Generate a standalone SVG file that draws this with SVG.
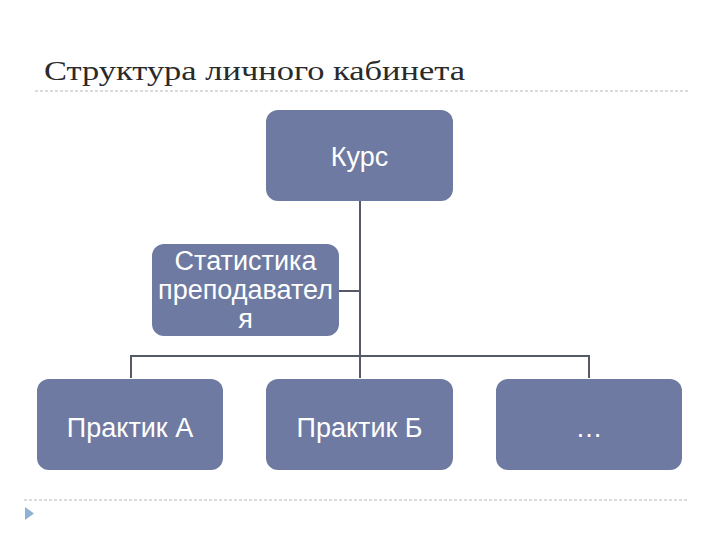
<svg xmlns="http://www.w3.org/2000/svg" width="720" height="540" viewBox="0 0 720 540">
<style>
.box{fill:#6E7AA1;}
.lbl{font-family:"Liberation Sans",Arial,sans-serif;font-size:27px;fill:#ffffff;text-anchor:middle;}
.conn{stroke:#555a66;stroke-width:2;fill:none;}
.sep{stroke:#b8b8b8;stroke-width:1;stroke-dasharray:3 2;}
</style>
<rect width="720" height="540" fill="#ffffff"/>
<text x="44" y="80" font-family="'Liberation Serif','DejaVu Serif',serif" font-size="28" fill="#2a2a2a" textLength="421" lengthAdjust="spacingAndGlyphs">Структура личного кабинета</text>
<line class="sep" x1="35" y1="91" x2="688" y2="91"/>
<g id="connectors">
<path class="conn" d="M360 201 V378"/>
<path class="conn" d="M339 291 H360"/>
<path class="conn" d="M131 378 V356 H589 V378"/>
</g>
<g id="kurs"><rect class="box" x="266" y="110" width="187" height="91" rx="12"/><text class="lbl" x="359.5" y="166">Курс</text></g>
<g id="stat"><rect class="box" x="152" y="244" width="187" height="92" rx="12"/><text class="lbl" x="245.5" y="270">Статистика</text><text class="lbl" x="245.5" y="299">преподавател</text><text class="lbl" x="245.5" y="328">я</text></g>
<g id="praktikA"><rect class="box" x="37" y="379" width="186" height="91" rx="12"/><text class="lbl" x="130" y="437">Практик А</text></g>
<g id="praktikB"><rect class="box" x="266" y="379" width="187" height="91" rx="12"/><text class="lbl" x="359.5" y="437">Практик Б</text></g>
<g id="more"><rect class="box" x="496" y="379" width="186" height="91" rx="12"/><text class="lbl" x="589" y="437">…</text></g>
<line class="sep" x1="24" y1="500" x2="688" y2="500"/>
<polygon points="25,507 34,513.5 25,520" fill="#8FB2D4"/>
</svg>
